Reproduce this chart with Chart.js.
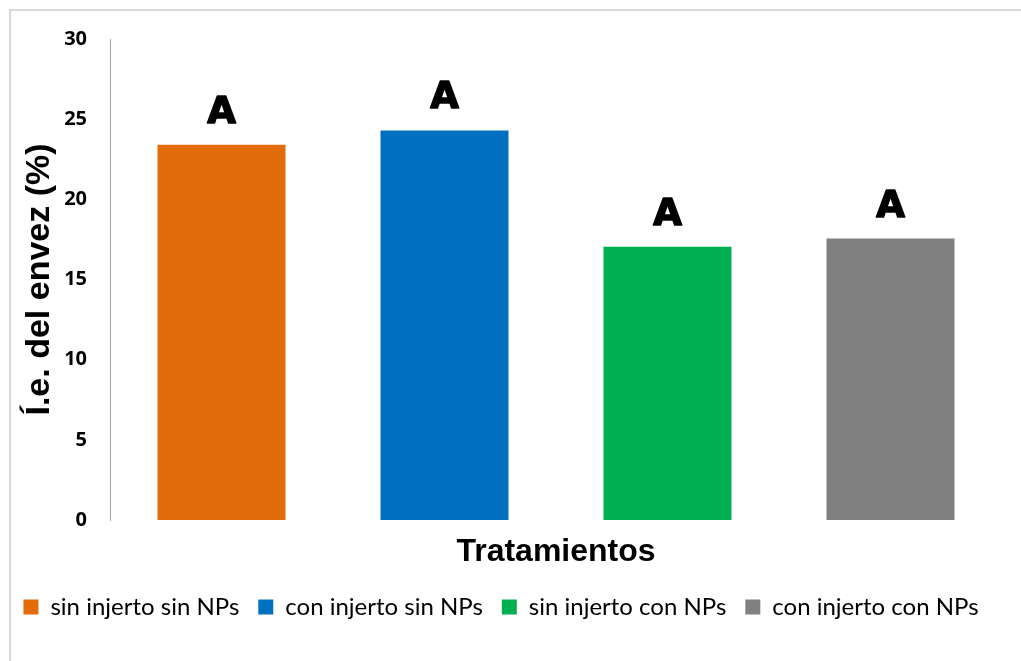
<!DOCTYPE html>
<html>
<head>
<meta charset="utf-8">
<script src="https://cdn.jsdelivr.net/npm/chart.js@4/dist/chart.umd.min.js"></script>
<style>
  body { margin: 0; background: #fff; }
  #wrap { position: relative; width: 1021px; height: 661px; overflow: hidden; }
  #frame { position: absolute; left: 9px; top: 9px; width: 1100px; height: 700px; border-left: 2px solid #d9d9d9; border-top: 2px solid #d9d9d9; }
  #c { position: absolute; left: 0; top: 0; }
</style>
</head>
<body>
<div id="wrap">
  <div id="frame"></div>
  <canvas id="c" width="1021" height="661"></canvas>
</div>
<script>
const tratamientos = ['sin injerto sin NPs', 'con injerto sin NPs', 'sin injerto con NPs', 'con injerto con NPs'];
const valores = [23.4, 24.3, 17.05, 17.55];
const letras = ['A', 'A', 'A', 'A'];
const colores = ['#E36C0A', '#0070C0', '#00B050', '#808080'];
const yTicks = [0, 5, 10, 15, 20, 25, 30];

// letters over each bar (heavy, like Arial Black)
const letrasPlugin = {
  id: 'letras',
  afterDatasetsDraw(chart) {
    const ctx = chart.ctx;
    const meta = chart.getDatasetMeta(0);
    ctx.save();
    ctx.font = 'bold 37px "DejaVu Sans"';
    ctx.fillStyle = '#000';
    ctx.strokeStyle = '#000';
    ctx.lineWidth = 1.6;
    ctx.lineJoin = 'round';
    ctx.textAlign = 'center';
    ctx.textBaseline = 'alphabetic';
    meta.data.forEach((bar, i) => {
      ctx.fillText(letras[i], bar.x, bar.y - 22);
      ctx.strokeText(letras[i], bar.x, bar.y - 22);
    });
    ctx.restore();
  }
};

const ctx = document.getElementById('c').getContext('2d');
const chart = new Chart(ctx, {
  type: 'bar',
  data: {
    labels: tratamientos,
    datasets: [{
      data: valores,
      backgroundColor: colores,
      borderWidth: 0,
      categoryPercentage: 1,
      barPercentage: 0.574
    }]
  },
  options: {
    responsive: false,
    animation: false,
    layout: { padding: { left: 0, right: 19, top: 39, bottom: 32 } },
    plugins: {
      tooltip: { enabled: false },
      legend: {
        position: 'bottom',
        labels: {
          color: '#000',
          font: { family: 'Lato', size: 24 },
          boxWidth: 15,
          boxHeight: 15,
          padding: 19,
          generateLabels: (ch) => tratamientos.map((t, i) => ({
            text: t,
            fillStyle: colores[i],
            strokeStyle: colores[i],
            lineWidth: 0,
            hidden: false,
            index: i
          }))
        }
      }
    },
    scales: {
      x: {
        grid: { display: false },
        border: { display: false },
        ticks: { display: false },
        title: {
          display: true,
          text: 'Tratamientos',
          color: '#000',
          font: { family: 'Liberation Sans', size: 32, weight: 'bold' },
          padding: { top: 0, bottom: 5 }
        },
        afterFit: (s) => { s.height = 56; }
      },
      y: {
        min: 0,
        max: 30,
        afterBuildTicks: (s) => { s.ticks = yTicks.map(v => ({ value: v })); },
        grid: { display: false, drawTicks: false },
        border: { display: true, color: '#a6a6a6', width: 1 },
        ticks: {
          color: '#000',
          padding: 23,
          font: { family: 'Open Sans', size: 20, weight: 'bold' }
        },
        title: {
          display: true,
          text: 'Í.e. del envez (%)',
          color: '#000',
          font: { family: 'Liberation Sans', size: 34, weight: 'bold' },
          padding: { top: 19, bottom: 0 }
        },
        afterFit: (s) => { s.width = 110; }
      }
    }
  },
  plugins: [letrasPlugin]
});
</script>
</body>
</html>
